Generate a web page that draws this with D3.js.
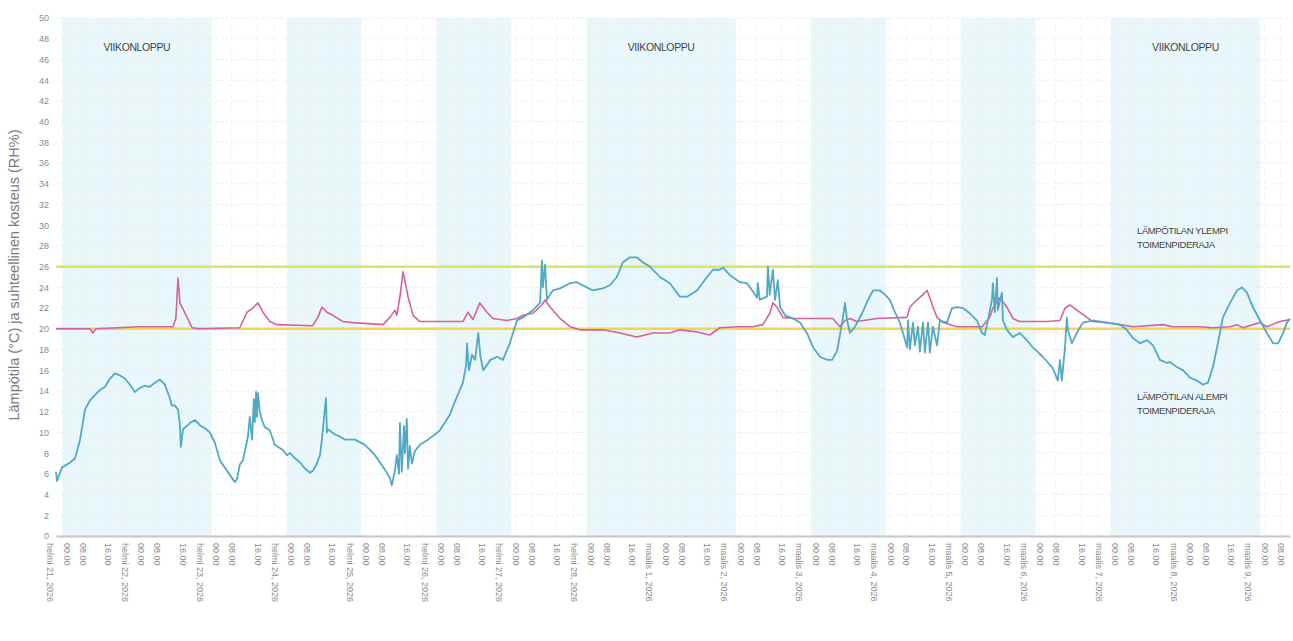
<!DOCTYPE html>
<html><head><meta charset="utf-8">
<script src="https://cdn.jsdelivr.net/npm/d3@7"></script>
<style>body{margin:0;background:#fff}svg{display:block;font-family:"Liberation Sans",Arial,sans-serif}</style>
</head><body><svg id="c" width="1293" height="641"></svg>
<script>
// hours since 2026-02-21 00:00
const blueHours = [-1.9,-1.6,0,2.6,4.2,5.8,7.4,9.0,12.2,13.8,15.4,17.0,18.6,20.2,21.8,23.4,25.0,26.6,28.2,29.8,31.4,33.0,34.6,35.2,36.2,37.2,37.8,38.1,38.8,41.0,42.6,44.2,45.8,47.4,49.0,50.6,52.2,53.8,55.4,56.1,57.0,58.0,59.6,60.2,60.9,61.5,61.8,62.2,62.5,62.8,63.4,64.1,65.0,66.6,68.2,69.8,70.8,72.1,73.1,74.7,76.3,77.9,79.5,80.4,81.4,82.7,83.3,83.9,84.6,84.9,85.2,87.5,89.1,90.7,93.9,97.1,100.3,103.5,105.1,105.7,106.7,107.3,108.0,108.3,108.9,109.6,109.9,110.5,110.9,111.5,112.1,113.1,114.7,117.3,119.5,121.1,124.3,125.3,127.5,128.5,129.5,129.8,130.4,131.4,132.4,133.4,134.1,135.0,137.3,139.4,141.3,143.5,145.8,147.7,150.9,153.2,153.8,154.1,154.8,155.4,156.4,157.3,159.6,162.8,165.0,168.2,170.1,173.3,175.6,177.8,179.7,182.0,184.2,186.2,188.4,191.6,194.8,198.0,200.3,203.5,206.7,208.6,210.8,211.8,214.0,217.2,219.5,221.4,222.7,223.0,223.6,225.9,226.2,226.8,227.8,228.5,229.4,230.1,231.7,234.2,236.5,238.7,240.7,242.9,245.2,246.8,248.4,250.0,250.9,251.6,252.5,254.1,256.4,258.3,259.9,262.1,263.7,265.3,266.9,268.5,269.5,270.8,271.1,271.7,272.7,273.3,274.3,274.9,275.9,276.5,277.5,278.1,279.1,280.4,281.3,283.6,285.2,286.8,288.7,290.9,293.2,294.8,295.7,296.7,298.0,298.3,298.9,299.6,299.9,301.2,301.5,302.8,304.7,306.9,309.2,311.1,314.3,317.5,319.1,319.8,320.4,321.4,322.0,322.3,323.6,325.2,327.1,330.3,334.8,339.0,341.2,343.2,345.4,347.7,349.6,351.8,354.1,355.0,357.3,359.2,361.4,363.7,365.6,367.2,368.8,370.4,372.0,374.3,376.5,378.1,379.7,381.6,383.9,386.1,388.1,389.7,391.3,392.5,393.5];
const blueValues = [6.2,5.3,6.6,7.1,7.5,9.3,12.2,13.1,14.1,14.4,15.2,15.7,15.5,15.2,14.6,13.9,14.3,14.5,14.4,14.8,15.1,14.6,13.3,12.6,12.6,12.2,10.7,8.6,10.3,10.9,11.2,10.7,10.4,10.0,9.0,7.3,6.6,5.9,5.2,5.5,6.9,7.3,9.6,11.5,9.3,13.2,11.0,13.9,11.5,13.8,12.0,11.2,10.5,10.2,8.8,8.5,8.3,7.8,8.0,7.5,7.1,6.5,6.1,6.3,6.8,7.8,9.3,11.2,13.3,10.0,10.3,9.8,9.6,9.3,9.3,8.8,7.8,6.4,5.6,4.9,6.3,7.8,6.0,10.9,6.2,10.6,8.0,11.3,6.5,8.7,7.0,8.2,8.8,9.3,9.8,10.2,11.7,12.5,14.1,14.8,16.5,18.6,16.0,17.5,17.0,19.6,17.3,16.0,17.0,17.3,17.0,18.6,20.8,21.1,21.8,22.5,26.6,24.0,26.2,22.8,23.3,23.7,23.9,24.4,24.5,24.0,23.7,23.9,24.2,25.0,26.4,26.9,26.9,26.4,26.0,25.0,24.4,23.1,23.1,23.7,25.0,25.7,25.7,25.9,25.2,24.5,24.4,23.6,23.0,24.4,22.8,23.1,26.0,23.3,25.7,22.8,24.7,22.1,21.3,21.0,20.6,19.6,18.2,17.3,17.0,17.0,17.9,20.6,22.5,20.8,19.6,20.2,21.5,22.8,23.7,23.7,23.3,22.8,21.6,20.6,19.6,18.2,20.8,18.0,20.6,18.4,20.2,17.8,20.6,17.7,20.6,17.7,20.2,18.4,20.8,20.6,22.0,22.1,22.0,21.5,20.8,19.6,19.4,20.8,22.8,24.4,21.6,24.9,21.8,23.5,20.8,19.9,19.2,19.6,18.9,18.2,17.3,16.2,15.0,17.0,15.0,18.2,21.1,19.9,18.6,19.6,20.6,20.8,20.6,20.4,19.9,19.1,18.6,18.9,18.4,17.0,16.7,16.8,16.3,16.0,15.3,15.0,14.6,14.8,16.3,18.6,21.1,22.5,23.7,24.0,23.5,22.1,20.8,19.6,18.6,18.6,19.6,20.6,21.0];
const pinkHours = [-1.9,9.0,9.9,10.9,25.0,35.6,36.5,37.2,37.8,40.1,41.7,44.2,57.0,59.3,61.2,62.8,64.4,66.6,68.9,80.4,82.0,83.3,84.9,86.8,90.0,93.2,102.9,105.1,106.7,107.3,108.3,109.3,110.9,112.5,114.7,128.5,130.1,131.7,133.9,136.2,138.1,142.6,145.8,147.7,150.9,153.8,154.8,156.4,159.6,162.8,166.0,173.3,178.8,184.2,189.4,194.8,198.0,203.5,207.6,210.8,216.3,221.4,224.6,226.8,227.8,229.1,231.0,234.2,242.9,247.0,249.3,250.9,252.5,254.7,261.1,270.8,271.7,274.0,275.9,277.2,278.1,279.1,280.4,282.3,286.8,294.8,297.3,298.3,300.5,302.8,304.7,306.9,315.6,319.8,321.4,323.0,325.2,328.4,330.3,334.8,339.0,343.2,352.8,356.0,364.6,368.8,374.3,376.5,378.4,383.9,386.1,390.3,393.5];
const pinkValues = [20.0,20.0,19.6,20.0,20.2,20.2,21.0,24.9,22.5,21.1,20.1,20.0,20.1,21.6,22.0,22.5,21.6,20.7,20.4,20.3,21.1,22.1,21.6,21.3,20.7,20.6,20.4,21.1,21.8,21.3,23.1,25.5,23.1,21.3,20.7,20.7,21.6,20.9,22.5,21.6,21.0,20.8,21.0,21.3,21.5,22.3,22.8,22.1,21.0,20.2,19.9,19.9,19.6,19.2,19.6,19.6,19.9,19.7,19.4,20.1,20.2,20.2,20.4,21.5,22.5,22.1,21.1,21.0,21.0,21.0,20.2,20.8,21.0,20.7,21.0,21.1,22.1,22.8,23.3,23.7,23.0,22.1,21.1,20.6,20.2,20.2,21.1,22.0,23.0,22.1,21.0,20.7,20.7,20.8,22.0,22.3,21.8,21.1,20.7,20.6,20.4,20.2,20.4,20.2,20.2,20.1,20.2,20.4,20.1,20.6,20.2,20.7,20.9];
const dayLabels = ["helmi 21, 2026","helmi 22, 2026","helmi 23, 2026","helmi 24, 2026","helmi 25, 2026","helmi 26, 2026","helmi 27, 2026","helmi 28, 2026","maalis 1, 2026","maalis 2, 2026","maalis 3, 2026","maalis 4, 2026","maalis 5, 2026","maalis 6, 2026","maalis 7, 2026","maalis 8, 2026","maalis 9, 2026"];
const hourLabels = ["00.00","08.00","16.00"];
const shadedDays = [0,1,3,5,7,8,10,12,14,15];
const weekendLabels = [{day:0,text:"VIIKONLOPPU"},{day:7,text:"VIIKONLOPPU"},{day:14,text:"VIIKONLOPPU"}];
const limits = [{value:26,color:"#d8e46a"},{value:20,color:"#f2d15c"}];
const limitTexts = [["LÄMPÖTILAN YLEMPI","TOIMENPIDERAJA"],["LÄMPÖTILAN ALEMPI","TOIMENPIDERAJA"]];
const yTitle = "Lämpötila (°C) ja suhteellinen kosteus (RH%)";

const base = new Date(2026,1,21,0,0,0);
const T = h => new Date(base.getTime()+h*3600000);
const svg = d3.select("#c");
const x = d3.scaleTime().domain([T(-1.9),T(393.5)]).range([56,1290]);
const y = d3.scaleLinear().domain([0,50]).range([536,18]);

// shaded day bands
svg.append("g").selectAll("rect").data(shadedDays).join("rect")
  .attr("x",d=>x(T(d*24))).attr("width",d=>x(T(d*24+24))-x(T(d*24)))
  .attr("y",y(50)).attr("height",y(0)-y(50)).attr("fill","#e9f7fb");

// ticks: date label, then hour labels
const tickOffsets = [-4.0,1.3,6.4,14.5];
const ticks = [];
dayLabels.forEach((lab,i)=>{
  [lab].concat(hourLabels).forEach((t,j)=>{
    const h = i*24+tickOffsets[j];
    if (h<=393.5) ticks.push({h,t});
  });
});

// grid
const yTicks = d3.range(0,51,2);
svg.append("g").selectAll("line").data(yTicks).join("line")
  .attr("x1",56).attr("x2",1290).attr("y1",d=>y(d)).attr("y2",d=>y(d))
  .attr("stroke","#eceff0").attr("stroke-width",1).attr("stroke-dasharray","3,2");
svg.append("g").selectAll("line").data(ticks.filter(d=>x(T(d.h))>57)).join("line")
  .attr("x1",d=>x(T(d.h))).attr("x2",d=>x(T(d.h))).attr("y1",y(50)).attr("y2",y(0))
  .attr("stroke","#eef0f1").attr("stroke-width",1).attr("stroke-dasharray","3,3");

// axes
const yAxis = svg.append("g").attr("transform","translate(49,0)")
  .call(d3.axisLeft(y).tickValues(yTicks).tickSize(0).tickPadding(0));
yAxis.select(".domain").remove();
yAxis.selectAll("text").attr("fill","#8a8a8a").attr("font-size",9);

const xAxis = svg.append("g").attr("transform","translate(0,536)")
  .call(d3.axisBottom(x).tickValues(ticks.map(d=>T(d.h))).tickSize(0)
    .tickFormat((d,i)=>ticks[i].t));
xAxis.select(".domain").attr("stroke","#c4c8ca").attr("stroke-width",2);
xAxis.selectAll("text").attr("fill","#8a8a8a").attr("font-size",9)
  .attr("text-anchor","start").attr("dy","0.32em")
  .attr("transform","translate(0,7) rotate(90)").attr("y",0).attr("x",0);

// y title
svg.append("text").attr("transform","translate(19,275) rotate(-90)")
  .attr("text-anchor","middle").attr("font-size",14.5).attr("fill","#7a7a7a").text(yTitle);

// limit lines
svg.append("g").selectAll("line").data(limits).join("line")
  .attr("x1",56).attr("x2",1290).attr("y1",d=>y(d.value)).attr("y2",d=>y(d.value))
  .attr("stroke",d=>d.color).attr("stroke-width",2.5);

// series
const line = d3.line().x(d=>x(T(d[0]))).y(d=>y(d[1]));
svg.append("path").datum(d3.zip(pinkHours,pinkValues)).attr("d",line)
  .attr("fill","none").attr("stroke","#d4629c").attr("stroke-width",1.6).attr("stroke-linejoin","round");
svg.append("path").datum(d3.zip(blueHours,blueValues)).attr("d",line)
  .attr("fill","none").attr("stroke","#52a9c3").attr("stroke-width",1.8).attr("stroke-linejoin","round");

// weekend labels
svg.append("g").selectAll("text").data(weekendLabels).join("text")
  .attr("x",d=>x(T(d.day*24+24))).attr("y",51).attr("text-anchor","middle")
  .attr("font-size",10.5).attr("fill","#444").attr("letter-spacing","-0.4").text(d=>d.text);

// limit texts
const ly = [234,400];
limitTexts.forEach((lines,i)=>{
  lines.forEach((t,j)=>{
    svg.append("text").attr("x",1137).attr("y",ly[i]+j*14).attr("font-size",9.5)
      .attr("fill","#444").attr("letter-spacing","-0.4").text(t);
  });
});
</script></body></html>
